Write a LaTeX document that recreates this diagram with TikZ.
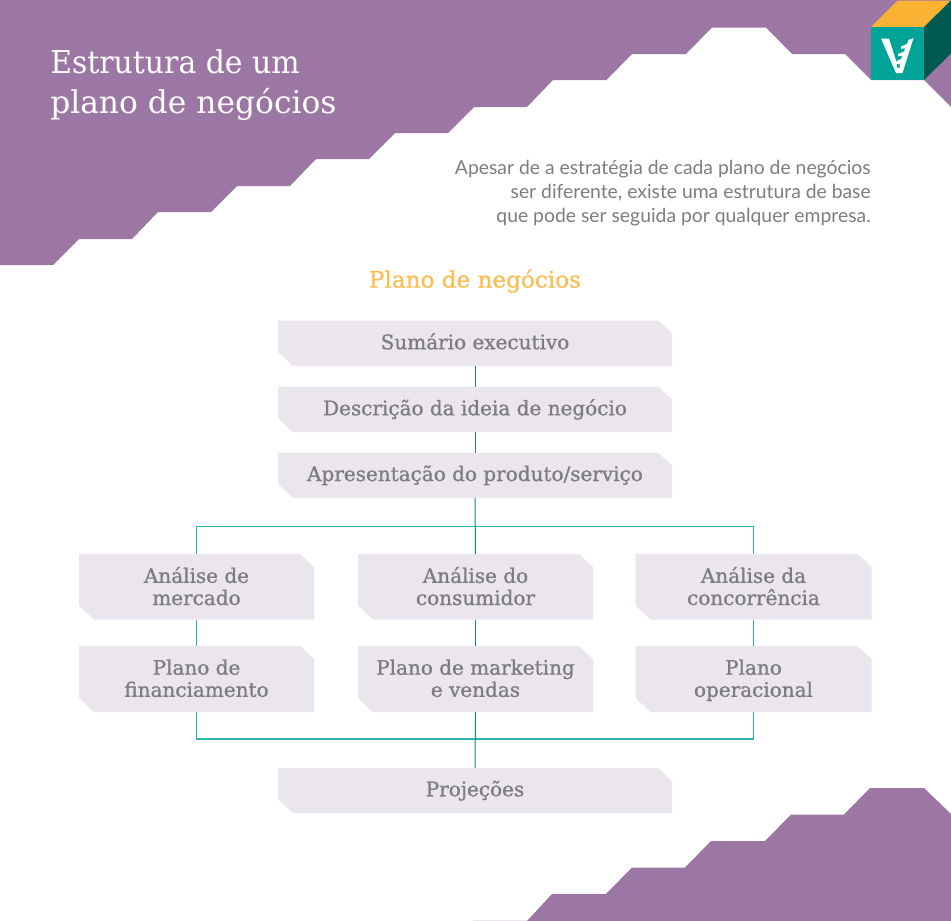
\documentclass[tikz,border=0pt]{standalone}
\usepackage{fontspec}
\setmainfont{Lato}
\newfontfamily\slabfont[FakeStretch=1.0,FakeBold=1.0]{DejaVu Serif}
\newfontfamily\headfont[FakeStretch=1.02,FakeBold=1.0]{DejaVu Serif}
\newfontfamily\titlefontA[FakeStretch=0.95]{DejaVu Serif}
\newfontfamily\titlefontB[FakeStretch=0.995]{DejaVu Serif}
\newfontfamily\introfont{Lato}
\definecolor{plum}{HTML}{9D77A3}
\definecolor{boxfill}{HTML}{EBE6EE}
\definecolor{labelgray}{HTML}{7D7D7F}
\definecolor{tealbright}{HTML}{2DB5A8}
\definecolor{tealdark}{HTML}{0F8C82}
\definecolor{cubefront}{HTML}{00A398}
\definecolor{cubeside}{HTML}{005A52}
\definecolor{cubetop}{HTML}{F9B233}
\definecolor{headorange}{HTML}{F9BE55}
\tikzset{
  x=0.75pt,y=-0.75pt,
  boxlabel/.style={font=\slabfont\fontsize{15}{16.6}\selectfont,text=labelgray,align=center,inner sep=0pt,
    execute at begin node=\strut,execute at end node=\strut},
  cutbox/.style={fill=boxfill,draw=none},
  spine/.style={draw=tealdark,line width=0.75pt},
  branch/.style={draw=tealbright,line width=0.9pt},
}
\def\labelshift{1.3}
% #1 name, #2 left, #3 top, #4 right, #5 bottom, #6 text
\newcommand{\cutboxnode}[6]{%
  \fill[cutbox] (#2,#3) -- (#4-14,#3) -- (#4,#3+13) -- (#4,#5) -- (#2+15,#5) -- (#2,#5-14) -- cycle;
  \node[boxlabel] (#1) at ({(#2+#4)/2},{(#3+#5)/2+\labelshift}) {#6};
  \coordinate (#1t) at ({(#2+#4)/2},#3);
  \coordinate (#1b) at ({(#2+#4)/2},#5);
}
\begin{document}
\begin{tikzpicture}
\useasboundingbox (0,0) rectangle (951,921);
\fill[white] (0,0) rectangle (951,921);
% top band
\fill[plum] (0,0) -- (951,0) -- (951,107) -- (924,80) -- (871,80) -- (845,54) -- (792,54) -- (766,27.5) -- (712,27.5)
  -- (686,54) -- (632,54) -- (606.5,80) -- (553,80) -- (527,107) -- (474,107) -- (448,133) -- (395,133) -- (369,159)
  -- (316,159) -- (290,186) -- (237,186) -- (211,212) -- (158,212) -- (132,239) -- (79,239) -- (53,265) -- (0,265) -- cycle;
% bottom band
\fill[plum] (527,921) -- (552,894) -- (606,894) -- (632,867.5) -- (685,867.5) -- (711,841) -- (765,841) -- (791,814.5)
  -- (844,814.5) -- (870,788) -- (924,788) -- (951,814) -- (951,921) -- cycle;
\fill[boxfill] (473,920.2) rectangle (527,921);
% cube logo
\fill[cubetop] (871,27) -- (897.5,0.5) -- (951,0.5) -- (924,27) -- cycle;
\fill[cubeside] (924,27) -- (951,0.5) -- (951,53.5) -- (924,80) -- cycle;
\fill[cubefront] (871,27) rectangle (924,80);
\fill[white,even odd rule] (881,38.5) -- (889,38.5) -- (896.5,62) -- (900,62) -- (908.5,40) -- (913.5,38) -- (902.5,73) -- (896,73) -- cycle
  (896.8,64) rectangle (899.8,67.5);
\fill[white] (901,46.5) -- (908,43.5) -- (906,48.5) -- (901,48.5) -- cycle;
\fill[white] (898,54) -- (905.5,51) -- (903,56) -- (898,56) -- cycle;
\fill[white] (896.5,61) -- (902.5,58.5) -- (901.5,63) -- (896.5,63) -- cycle;
% title and texts
\node[anchor=base west,inner sep=0pt,text=white,font=\titlefontA\fontsize{23.6}{30}\selectfont] (titleA) at (50,73) {Estrutura de um};
\node[anchor=base west,inner sep=0pt,text=white,font=\titlefontB\fontsize{23.6}{30}\selectfont] (titleB) at (50,113) {plano de negócios};
\node[anchor=north east,inner sep=0pt,align=right,text=labelgray,font=\introfont\fontsize{14.5}{18}\selectfont] (intro) at (871,160)
  {Apesar de a estratégia de cada plano de negócios\\ser diferente, existe uma estrutura de base\\que pode ser seguida por qualquer empresa.};
\node[inner sep=0pt,text=headorange,font=\headfont\fontsize{17}{18}\selectfont] (head) at (475,281) {Plano de negócios};
% boxes
\cutboxnode{sum}{278}{320.5}{672}{366}{Sumário executivo}
\cutboxnode{desc}{278}{386.5}{672}{432}{Descrição da ideia de negócio}
\cutboxnode{apre}{278}{452.5}{672}{498}{Apresentação do produto/serviço}
\cutboxnode{proj}{278}{768}{672}{813}{Projeções}
\def\labelshift{2.5}
\cutboxnode{merc}{79}{554}{314}{619.5}{Análise de\\mercado}
\cutboxnode{cons}{358}{554}{593}{619.5}{Análise do\\consumidor}
\cutboxnode{conc}{635.5}{554}{871.5}{619.5}{Análise da\\concorrência}
\cutboxnode{fin}{79}{646}{314}{712}{Plano de\\financiamento}
\cutboxnode{mkt}{358}{646}{593}{712}{Plano de marketing\\e vendas}
\cutboxnode{oper}{635.5}{646}{871.5}{712}{Plano\\operacional}
% connectors
\coordinate (barT) at (475,526.5);
\coordinate (barB) at (475,739);
\draw[branch] (merct) |- (barT) -| (conct);
\draw[branch] (finb) |- (barB) -| (operb);
\draw[branch] (mercb) -- (fint);
\draw[branch] (concb) -- (opert);
\draw[spine] (sumb) -- (desct);
\draw[spine] (descb) -- (apret);
\draw[spine] (apreb) -- (const);
\draw[spine] (consb) -- (mktt);
\draw[spine] (mktb) -- (projt);
\end{tikzpicture}
\end{document}
